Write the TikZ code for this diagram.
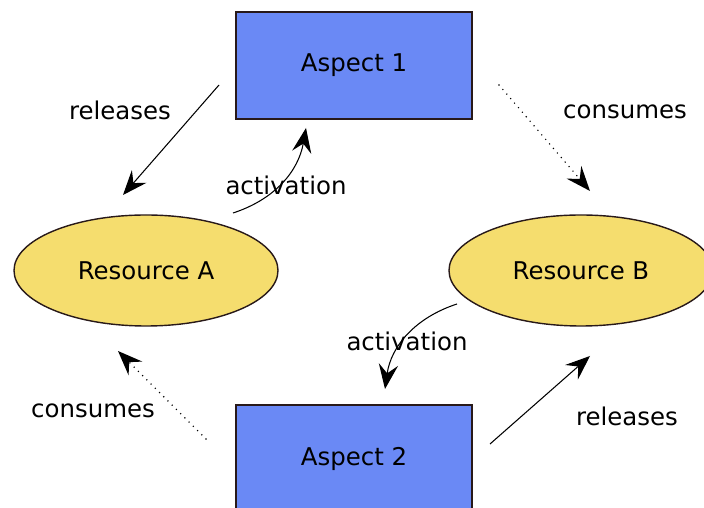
\documentclass[tikz,border=0pt]{standalone}
\usepackage{fontspec}
\setmainfont{DejaVu Sans}
\usetikzlibrary{arrows.meta, shapes.geometric}
\definecolor{aspblue}{RGB}{106,137,245}
\definecolor{resyel}{RGB}{245,221,110}
\definecolor{edge}{RGB}{40,25,25}
\tikzset{%
    asp/.style={rectangle, draw=edge, fill=aspblue, line width=0.8pt, minimum width=4.72cm, minimum height=2.14cm},
    res/.style={ellipse, draw=edge, fill=resyel, line width=0.8pt, minimum width=5.28cm, minimum height=2.22cm, inner sep=0pt},
    rel/.style={line width=0.6pt, -{Stealth[length=14pt, width=11pt, inset=5pt]}},
    con/.style={line width=0.9pt, line cap=round, dash pattern=on 0pt off 3.4pt, -{Stealth[length=14pt, width=11pt, inset=5pt]}},
    lab/.style={inner sep=1pt},
}
\begin{document}
\begin{tikzpicture}[font=\fontsize{13.9}{16}\selectfont]
    \useasboundingbox (0,0) rectangle (14.08,10.16);
    \node [asp] (asp1) at (7.08,8.85) {Aspect 1};
    \node [asp] (asp2) at (7.08,0.99) {Aspect 2};
    \node [res] (resA) at (2.92,4.75) {Resource A};
    \node [res] (resB) at (11.62,4.75) {Resource B};
    \coordinate (relA1) at (4.38,8.46);
    \coordinate (relA2) at (2.46,6.26);
    \coordinate (conB1) at (9.98,8.46);
    \coordinate (conB2) at (11.8,6.34);
    \coordinate (actA1) at (4.66,5.9);
    \coordinate (actA2) at (6.12,7.6);
    \coordinate (actB1) at (9.14,4.08);
    \coordinate (actB2) at (7.7,2.38);
    \coordinate (conA1) at (4.12,1.38);
    \coordinate (conA2) at (2.36,3.14);
    \coordinate (relB1) at (9.8,1.28);
    \coordinate (relB2) at (11.8,3.04);
    \draw [rel] (relA1) -- (relA2);
    \draw [con] (conB1) -- (conB2);
    \draw [rel] (actA1) to[out=18, in=-100] (actA2);
    \draw [rel] (actB1) to[out=198, in=82] (actB2);
    \draw [con] (conA1) -- (conA2);
    \draw [rel] (relB1) -- (relB2);
    \node [lab] (lrelA) at (2.4,7.96) {releases};
    \node [lab] (lconB) at (12.5,7.92) {consumes};
    \node [lab] (lactA) at (5.72,6.46) {activation};
    \node [lab] (lactB) at (8.14,3.34) {activation};
    \node [lab] (lconA) at (1.86,1.94) {consumes};
    \node [lab] (lrelB) at (12.54,1.84) {releases};
\end{tikzpicture}
\end{document}
